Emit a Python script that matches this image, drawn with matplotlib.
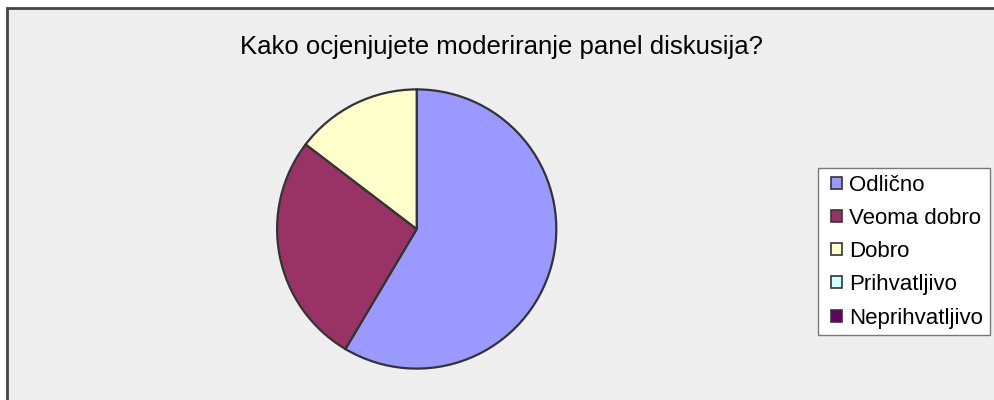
import matplotlib.pyplot as plt
import matplotlib as mpl
from matplotlib.patches import Rectangle, Patch
from matplotlib.legend_handler import HandlerPatch

mpl.rcParams.update({
    'font.family': ['Liberation Sans', 'DejaVu Sans'],
})

# data
categories = ['Odlično', 'Veoma dobro', 'Dobro', 'Prihvatljivo', 'Neprihvatljivo']
counts = [24, 11, 6, 0, 0]
colors = ['#9999FF', '#993366', '#FFFFCC', '#CCFFFF', '#660066']
title = 'Kako ocjenjujete moderiranje panel diskusija?'

W, H = 994, 400
fig = plt.figure(figsize=(W / 100, H / 100), dpi=100)
fig.patch.set_facecolor('white')

# chart area background with border (runs off the right/bottom edge)
fig.patches.append(Rectangle((7 / W, -0.01), 1.0, 1 - 8 / H + 0.01,
                             transform=fig.transFigure, facecolor='#EEEEEE',
                             edgecolor='#444444', linewidth=2.0, zorder=-5))

fig.text(502 / W, 1 - 47 / H, title, ha='center', va='center', fontsize=18.5)

# pie, centre (416.7, 229) px, radius 141 px
r = 141
ax = fig.add_axes([(416.7 - r) / W, (H - 229 - r) / H, 2 * r / W, 2 * r / H])
ax.set_zorder(2)
nz = [(c, col) for c, col in zip(counts, colors) if c > 0]
ax.pie([c for c, _ in nz], colors=[col for _, col in nz], startangle=90,
       counterclock=False, radius=1,
       wedgeprops={'edgecolor': '#333333', 'linewidth': 1.6})
ax.set_xlim(-1.01, 1.01)
ax.set_ylim(-1.01, 1.01)
ax.axis('off')


# small square marker at the right end of the handle box
def square_patch(legend, orig_handle, xdescent, ydescent, width, height, fontsize):
    return Rectangle((-xdescent + width - height, -ydescent), height, height)


handles = [Patch(facecolor=c, edgecolor='#333333', linewidth=1.2) for c in colors]
leg = fig.legend(handles, categories, loc='upper left',
                 bbox_to_anchor=(818 / W, 1 - 168 / H), fontsize=16,
                 handler_map={Patch: HandlerPatch(patch_func=square_patch)},
                 handlelength=0.8, handleheight=0.45, handletextpad=0.3,
                 labelspacing=0.55, borderpad=0.3, borderaxespad=0,
                 fancybox=False, frameon=True)
leg.get_frame().set_edgecolor('#777777')
leg.get_frame().set_facecolor('white')
leg.get_frame().set_alpha(1)
leg.get_frame().set_linewidth(1.0)
leg.set_zorder(3)

fig.savefig('out.png', dpi=100)
